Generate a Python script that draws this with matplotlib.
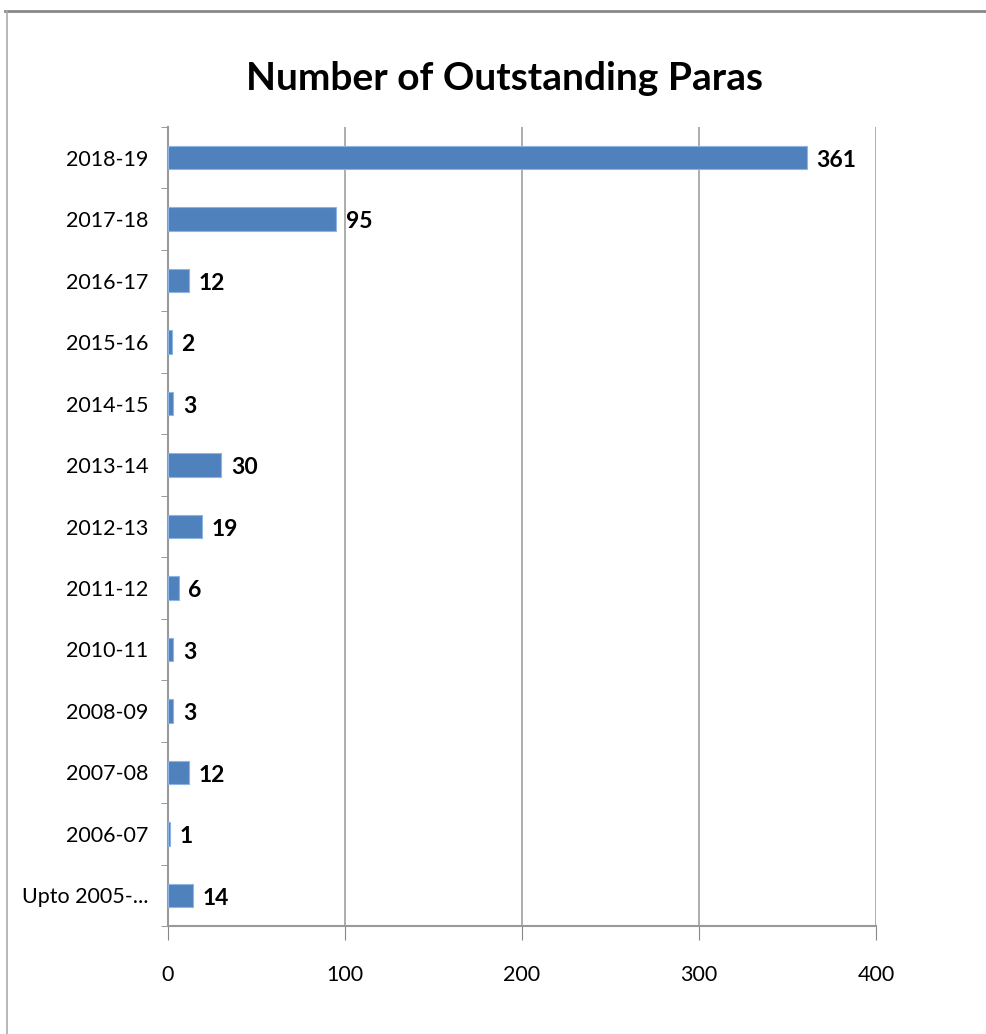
import matplotlib
matplotlib.use('Agg')
import matplotlib.pyplot as plt
from matplotlib.lines import Line2D
import numpy as np

years = ['2018-19', '2017-18', '2016-17', '2015-16', '2014-15', '2013-14', '2012-13',
         '2011-12', '2010-11', '2008-09', '2007-08', '2006-07', 'Upto 2005-...']
paras = [361, 95, 12, 2, 3, 30, 19, 6, 3, 3, 12, 1, 14]

plt.rcParams['font.family'] = ['Lato', 'DejaVu Sans']

fig = plt.figure(figsize=(9.86, 10.34), dpi=100)
ax = fig.add_axes([0.1704, 0.1044, 0.718, 0.7728])

y = np.arange(len(years))
ax.barh(y, paras, height=0.38, color='#4F81BD', edgecolor='#8EB4E3', linewidth=0.8, zorder=3)
for yi, v in zip(y, paras):
    ax.annotate(str(v), (v, yi), xytext=(7, -2), textcoords='offset points',
                va='center', ha='left', fontsize=16.5, fontweight='bold')

ax.set_xlim(0, 400)
ax.set_ylim(len(years) - 0.5, -0.5)
ax.set_xticks([0, 100, 200, 300, 400])
ax.set_yticks(y)
ax.set_yticklabels(years)
ax.set_yticks(np.arange(-0.5, len(years), 1), minor=True)
ax.tick_params(axis='y', which='major', length=0, pad=14, labelsize=15.5)
ax.tick_params(axis='y', which='minor', length=5, color='#888888', direction='out')
ax.tick_params(axis='x', length=10, color='#888888', pad=18, labelsize=15.5)
ax.grid(axis='x', color='#A0A0A0', linewidth=1.2, zorder=0)
for s in ['top', 'right']:
    ax.spines[s].set_visible(False)
for s in ['left', 'bottom']:
    ax.spines[s].set_color('#999999')
    ax.spines[s].set_linewidth(1.5)

fig.text(0.512, 0.924, 'Number of Outstanding Paras', ha='center', va='center',
         fontsize=28, fontweight='bold')

fig.add_artist(Line2D([5 / 986, 1], [1 - 11 / 1034, 1 - 11 / 1034], color='#888888', linewidth=2))
fig.add_artist(Line2D([7 / 986, 7 / 986], [0, 1 - 11 / 1034], color='#AAAAAA', linewidth=1.2))

fig.savefig('out.png', dpi=100, facecolor='white')
